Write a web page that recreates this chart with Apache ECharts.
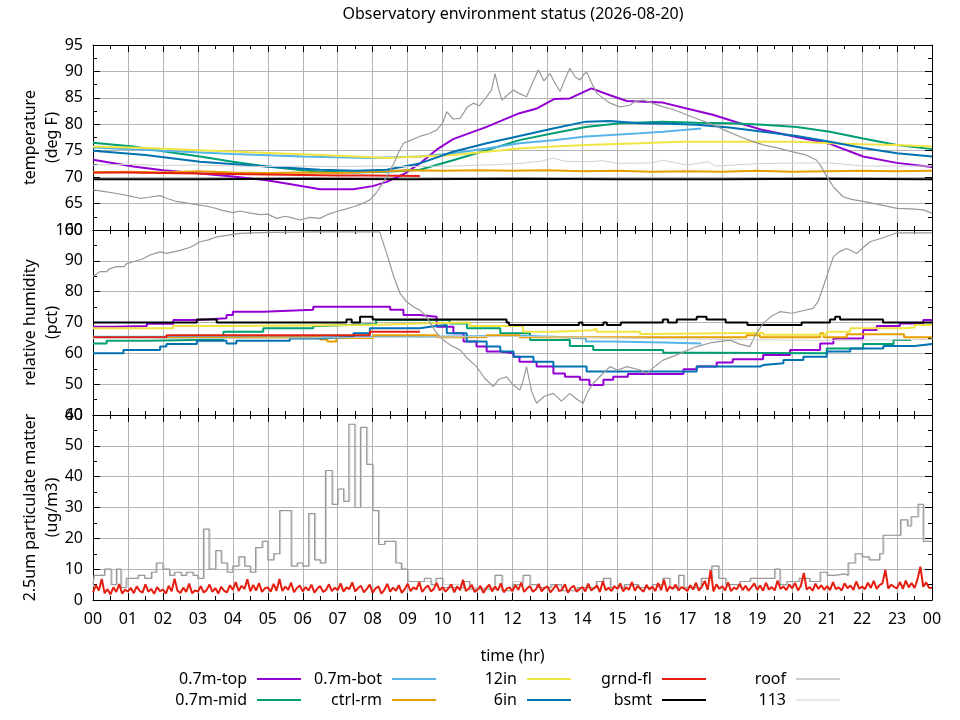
<!DOCTYPE html>
<html><head><meta charset="utf-8">
<script src="https://cdn.jsdelivr.net/npm/echarts@6/dist/echarts.min.js"></script>
<style>html,body{margin:0;padding:0;background:#fff}#c{width:960px;height:720px}</style>
</head><body><div id="c"></div>
<script>
// ---------- labels ----------
const chartTitle = 'Observatory environment status (2026-08-20)';
const xTickLabels = ['00','01','02','03','04','05','06','07','08','09','10','11','12','13','14','15','16','17','18','19','20','21','22','23','00'];
const sensorNames = ['0.7m-top','0.7m-mid','0.7m-bot','ctrl-rm','12in','6in','grnd-fl','bsmt','roof','113'];

// ---------- temperature (deg F), [hour, value] ----------
const tempTop = [[0,73.3],[1.15,72.0],[2,71.3],[3.06,70.7],[4,70.1],[4.97,69.4],[5.7,68.6],[6.5,67.7],[7.44,67.7],[8,68.3],[8.4,69.1],[8.9,70.6],[9.35,72.6],[9.83,75.2],[10.3,77.2],[11.26,79.5],[12.2,82.1],[12.7,83.0],[13.2,84.8],[13.64,84.9],[14.26,86.8],[14.79,85.5],[15.27,84.4],[16.3,84.1],[16.98,83.0],[17.73,81.8],[18.5,80.2],[19.17,78.9],[20.13,77.6],[21.08,76.3],[22.03,73.9],[22.99,72.7],[24,71.9]];
const tempMid = [[0,76.5],[1.15,75.8],[2,74.9],[3.06,73.9],[4,72.9],[4.97,72.0],[6,71.3],[6.5,71.0],[7.5,70.9],[8.4,71.0],[9.35,71.4],[10.3,73.2],[11.26,75.1],[12.2,77.0],[13.16,78.3],[14.1,79.5],[15.07,80.2],[16.3,80.5],[17.27,80.3],[18.2,80.2],[19.17,79.9],[20.13,79.5],[21.08,78.6],[22.03,77.3],[23,76.1],[24,75.3]];
const tempBot = [[0,75.6],[2,75.0],[4,74.4],[6,73.9],[7.9,73.6],[9.35,73.9],[10.3,74.5],[11.26,75.4],[12.2,76.4],[13.16,77.0],[14.1,77.7],[15.65,78.3],[16.3,78.6],[17.4,79.2]];
const tempCtrl = [[0,70.9],[1,71.0],[2,70.9],[3,71.1],[4,70.9],[5,70.8],[6,70.9],[7,70.8],[8,71.0],[9,71.3],[10,71.2],[11,71.3],[12,71.2],[13,71.3],[14,71.1],[15,71.2],[16,71.0],[17,71.1],[18,71.0],[19,71.2],[20,71.0],[21,71.1],[22,71.2],[23,71.1],[24,71.2]];
const temp12in = [[0,75.8],[1.5,75.5],[3.06,75.1],[4.5,74.7],[6.5,74.2],[7.5,73.9],[8.4,73.6],[9.35,73.9],[10.3,74.2],[11.26,74.8],[12.2,75.4],[13.16,75.8],[14.1,76.1],[15.65,76.4],[16.8,76.7],[18.2,76.7],[20.13,76.7],[21.08,76.4],[22.03,76.2],[23,76.1],[24,75.8]];
const temp6in = [[0,75.0],[1.5,74.2],[3.06,72.9],[4.97,72.0],[6.5,71.4],[7.5,71.2],[8.4,71.4],[9.35,72.6],[10.3,74.8],[11.26,76.4],[12.2,77.8],[13.16,79.2],[14.1,80.5],[14.79,80.6],[15.65,80.2],[16.5,80.1],[17.27,79.9],[18.2,79.4],[19.17,78.6],[20.13,77.8],[21.08,76.7],[22.03,75.5],[23,74.5],[24,73.9]];
const tempGrnd = [[0,70.9],[1,70.9],[2,70.8],[3,70.7],[4,70.6],[5,70.5],[6,70.4],[7,70.3],[8,70.3],[9.35,70.2]];
const tempBsmt = [[0,69.6],[3,69.6],[6,69.7],[9,69.6],[12,69.7],[15,69.6],[18,69.6],[21,69.7],[24,69.6]];
const tempRoof = [[0,67.6],[0.3,67.3],[0.68,66.9],[1.0,66.5],[1.34,66.0],[1.6,66.2],[1.92,66.5],[2.1,66.0],[2.39,65.4],[2.7,65.1],[3.06,64.7],[3.4,64.3],[3.7,63.7],[4.0,63.3],[4.2,63.6],[4.5,63.2],[4.8,62.9],[5.0,63.0],[5.25,62.2],[5.5,62.6],[5.7,62.3],[5.92,61.9],[6.2,62.4],[6.49,62.2],[6.7,62.9],[6.97,63.5],[7.2,63.9],[7.45,64.4],[7.7,65.0],[7.92,65.7],[8.1,67.0],[8.25,68.5],[8.4,70.1],[8.6,72.5],[8.75,74.8],[8.88,76.4],[9.1,77.0],[9.35,77.7],[9.6,78.2],[9.83,78.9],[10.0,80.2],[10.12,82.4],[10.3,81.0],[10.5,81.1],[10.7,83.2],[10.88,84.0],[11.05,83.5],[11.26,85.2],[11.4,86.5],[11.5,89.6],[11.6,86.8],[11.7,84.6],[11.85,85.5],[12.02,86.5],[12.2,85.8],[12.4,85.2],[12.55,87.5],[12.74,90.3],[12.9,88.2],[13.07,89.6],[13.2,88.0],[13.36,86.2],[13.5,88.5],[13.64,90.6],[13.8,88.9],[13.93,88.4],[14.05,89.5],[14.12,89.9],[14.25,88.0],[14.41,85.9],[14.6,84.9],[14.79,84.0],[15.07,83.3],[15.36,83.6],[15.5,84.3],[15.74,84.6],[16.0,84.0],[16.31,83.3],[16.6,82.8],[16.98,81.8],[17.3,81.0],[17.74,79.9],[18.1,78.8],[18.5,77.7],[18.8,76.9],[19.17,76.1],[19.6,75.5],[20.13,74.6],[20.4,74.2],[20.7,73.2],[20.85,71.8],[20.99,70.1],[21.2,68.0],[21.46,66.3],[21.7,65.8],[22.03,65.4],[22.5,64.8],[23.0,64.1],[23.4,64.0],[23.75,63.8],[24,63.2]];
const temp113 = [[0,72.3],[1,72.4],[2,72.2],[3,72.3],[4,72.1],[5,72.0],[6,72.1],[7,72.0],[8,72.1],[9,72.0],[10.3,72.1],[11.26,72.3],[12.2,72.6],[12.8,73.0],[13.16,73.6],[13.5,73.0],[14.1,72.9],[14.6,73.1],[15,72.6],[16,72.7],[16.3,73.2],[16.98,72.3],[17.6,72.9],[17.8,72.1],[19.17,72.6],[21.08,72.7],[22,72.1],[24,72.1]];

// ---------- relative humidity (pct), step levels [start hour, value] ----------
const humTop = [[0,68.6],[0.58,68.9],[1.54,69.6],[2.3,70.8],[2.97,71.4],[3.82,72.4],[4.0,73.5],[4.87,74.1],[6.3,75.1],[8.5,74.1],[8.88,72.4],[9.35,71.9],[9.83,68.6],[10.31,66.5],[10.6,63.8],[10.97,62.2],[11.26,60.6],[11.65,60.0],[12.03,58.9],[12.2,57.3],[12.69,55.7],[13.17,53.5],[13.5,52.4],[13.93,51.4],[14.2,49.7],[14.6,51.4],[14.88,52.4],[15.3,53.3],[16.89,54.8],[17.27,55.7],[17.84,57.0],[18.3,58.1],[19.17,59.5],[19.94,61.1],[20.8,63.2],[21.18,64.8],[22.03,67.6],[22.42,68.9],[23.08,69.7],[23.75,70.8],[24,70.8]];
const humMid = [[0,63.2],[0.39,64.1],[1.54,64.5],[3.73,67.0],[4.87,68.1],[6.3,68.9],[6.5,69.5],[8.1,70.8],[10.2,69.7],[10.7,68.1],[11.65,66.5],[12.5,64.3],[13.64,62.4],[14.31,61.1],[16.31,60.2],[17.5,60.0],[20.99,61.6],[22.03,63.0],[22.9,64.3],[23.4,64.3]];
const humBot = [[0,65.4],[9.5,65.7],[12.2,65.4],[13.17,64.8],[14.1,63.8],[14.8,63.5],[16.3,63.2],[17.4,63.0]];
const humCtrl = [[0,65.0],[2.77,65.2],[6.5,64.5],[6.7,63.8],[6.96,65.0],[8.02,65.9],[9.83,65.2],[11.26,65.9],[12.2,65.2],[18.69,65.9],[19.08,65.2],[20.8,66.5],[20.9,65.2],[21.56,66.2],[23.2,65.2],[24,65.2]];
const hum12in = [[0,68.1],[2.3,68.9],[4.0,69.2],[7.9,69.7],[9.35,70.0],[10.78,68.9],[12.3,67.0],[13.17,67.5],[14.3,68.1],[14.4,67.0],[15.65,66.3],[16,66.7],[19.17,66.0],[20.99,67.0],[21.66,68.1],[23.2,68.4],[23.5,69.2],[24,69.2]];
const hum6in = [[0,60.0],[0.87,61.1],[1.92,62.2],[2.1,63.0],[2.97,64.1],[3.82,63.2],[4.1,64.1],[5.63,64.8],[6.5,65.4],[7.45,66.5],[7.92,68.1],[9.35,68.6],[9.64,69.2],[10.12,66.5],[10.69,63.8],[11.26,62.2],[11.65,60.6],[12.03,58.9],[12.6,57.3],[13.17,55.7],[14.12,54.1],[17.27,55.7],[19.08,56.2],[19.17,56.8],[19.75,57.8],[20.32,58.9],[20.99,60.6],[21.66,61.6],[22.61,62.4],[23.5,63.0],[24,63.0]];
const humGrnd = [[0,65.2],[2.1,65.9],[7.92,67.0],[9.35,67.0]];
const humBsmt = [[0,70.0],[2.97,71.0],[3.54,70.0],[7.25,71.0],[7.4,70.0],[7.64,71.9],[8.0,71.0],[11.83,70.0],[11.9,69.2],[13.9,70.0],[14.0,69.2],[14.6,70.0],[14.7,69.2],[15.1,70.0],[16.3,71.0],[16.45,70.0],[16.7,71.0],[17.27,71.9],[17.55,71.0],[18.1,70.0],[18.72,69.2],[20.27,70.0],[21.08,71.0],[21.23,71.9],[21.37,71.0],[22.6,70.0],[24,70.0]];
const humRoof = [[0,84.9],[0.2,86.5],[0.4,86.5],[0.45,87.3],[0.68,88.1],[0.9,88.1],[0.95,89.0],[1.15,89.7],[1.4,90.5],[1.63,91.9],[1.92,92.9],[2.1,92.4],[2.5,93.4],[2.8,94.5],[3.06,96.2],[3.3,96.8],[3.54,97.8],[4.2,98.9],[5,99.2],[6.5,99.4],[8.2,99.4],[8.4,92.4],[8.6,85.0],[8.78,79.5],[8.95,77.0],[9.16,75.1],[9.35,74.0],[9.54,71.9],[9.8,67.0],[10.02,64.3],[10.25,62.5],[10.5,61.1],[10.7,58.5],[10.97,55.7],[11.2,52.0],[11.45,49.2],[11.6,51.5],[11.83,52.4],[12.0,50.0],[12.21,48.1],[12.3,51.0],[12.4,55.7],[12.55,47.5],[12.69,43.8],[12.9,46.0],[13.17,47.0],[13.4,44.5],[13.64,47.0],[13.85,45.0],[14.02,43.8],[14.15,47.5],[14.31,50.3],[14.5,52.5],[14.79,55.7],[15.0,54.5],[15.27,55.7],[15.65,54.6],[15.84,53.5],[16.1,56.0],[16.31,57.8],[16.7,59.5],[17.0,61.0],[17.27,62.2],[17.7,63.5],[18.22,64.3],[18.5,63.0],[18.79,62.2],[18.95,66.0],[19.17,69.7],[19.4,72.0],[19.65,73.5],[20.0,73.0],[20.3,73.8],[20.6,74.6],[20.75,77.0],[20.89,81.6],[21.05,87.0],[21.18,91.3],[21.35,93.0],[21.56,94.0],[21.85,92.4],[22.0,94.0],[22.23,96.2],[22.6,97.5],[23,99.1],[24,99.1]];
const hum113 = [[0,64.8],[3,65.0],[6,65.2],[9,65.5],[12,65.0],[15,64.5],[18,64.2],[21,64.5],[24,65.0]];

// ---------- 2.5um particulate matter (ug/m3) ----------
const pmRoof = [[0,5],[0.03,8],[0.33,10],[0.52,5],[0.67,10],[0.8,4],[0.95,7],[1.29,8],[1.48,7],[1.67,9],[1.81,12],[2.0,10],[2.19,8],[2.33,9],[2.52,8],[2.67,9],[2.86,8],[3.0,7],[3.16,23],[3.32,10],[3.51,16],[3.67,12],[3.84,9],[4.0,11],[4.17,14],[4.34,11],[4.5,9],[4.65,17],[4.84,19],[5.0,13],[5.17,15],[5.34,29],[5.67,11],[5.84,12],[6.0,11],[6.17,28],[6.34,13],[6.5,12],[6.65,42],[6.84,31],[7.0,36],[7.17,32],[7.32,57],[7.49,30],[7.65,56],[7.83,44],[8.0,29],[8.17,18],[8.34,19],[8.66,12],[8.82,10],[9.0,6],[9.48,7],[9.67,5],[9.81,7],[10.0,4],[10.6,6],[10.77,3.5],[11.5,8],[11.7,3],[12.0,5],[12.3,8],[12.5,5],[12.7,4],[13.1,5],[13.4,3],[13.85,4],[14.4,6],[14.6,7],[14.8,4],[15.2,5],[15.6,4],[16.0,5],[16.3,7],[16.5,4],[16.75,8],[16.9,4],[17.4,7],[17.7,11],[17.9,7],[18.1,5],[18.5,6],[18.8,7],[19.5,10],[19.65,5],[19.85,6],[20.2,7],[20.5,6],[20.8,9],[21.0,8],[21.2,8.5],[21.5,8],[21.6,12],[21.8,15],[22.0,14],[22.2,13],[22.5,15],[22.6,21],[23.1,26],[23.3,24],[23.4,27],[23.6,31],[23.75,19],[24,19]];
const pm113 = [[0,4],[0.05,8],[0.36,10],[0.55,5],[0.7,10],[0.83,4],[0.98,7],[1.32,8],[1.5,7],[1.7,9],[1.84,12],[2.03,10],[2.22,8],[2.36,9],[2.55,8],[2.7,9],[2.89,8],[3.03,7],[3.19,23],[3.35,10],[3.54,16],[3.7,12],[3.87,9],[4.03,11],[4.2,14],[4.37,11],[4.53,9],[4.68,17],[4.87,19],[5.03,13],[5.2,15],[5.37,29],[5.7,11],[5.87,12],[6.03,11],[6.2,28],[6.37,13],[6.53,12],[6.68,42],[6.87,31],[7.03,36],[7.2,32],[7.35,57],[7.52,30],[7.68,56],[7.86,44],[8.03,29],[8.2,18],[8.37,19],[8.69,12],[8.85,10],[9.03,6],[9.5,6],[9.7,5],[9.84,7],[10.03,5],[10.6,6],[10.8,4],[11.5,8],[11.73,3],[12.03,6],[12.33,8],[12.53,5],[12.73,4],[13.13,5],[13.43,3],[13.88,4],[14.43,6],[14.63,7],[14.83,4],[15.23,5],[15.63,4],[16.03,5],[16.33,7],[16.53,4],[16.78,8],[16.93,4],[17.43,7],[17.73,11],[17.93,7],[18.13,5],[18.53,6],[18.83,7],[19.53,10],[19.68,5],[19.88,6],[20.23,7],[20.53,6],[20.83,9],[21.03,8],[21.23,8.5],[21.53,8],[21.63,12],[21.83,15],[22.03,14],[22.23,13],[22.53,15],[22.63,21],[23.13,26],[23.33,24],[23.43,27],[23.63,31],[23.78,19],[24,19]];
// grnd-fl, one reading every 5 minutes from 00:00 to 24:00
const pmGrndVals = [
2.5,4.8,3.1,6.8,2.2,3.5,1.8,4.1,2.6,5.2,2.1,3.3,
2.8,3.9,2.2,4.4,3.0,2.4,5.1,2.7,3.6,2.0,4.2,2.9,
3.4,2.1,4.6,2.8,6.9,3.0,2.3,4.0,2.6,5.3,2.2,3.1,
2.7,4.5,2.4,3.2,5.0,2.6,3.9,2.1,4.3,3.0,2.5,4.8,
3.3,5.8,2.9,4.6,3.6,6.7,2.8,4.9,3.1,5.5,2.6,3.8,
4.1,2.7,5.2,3.0,6.8,2.9,4.4,3.3,5.6,2.5,3.9,4.7,
2.8,4.2,3.1,5.0,2.4,3.7,4.5,2.6,3.3,5.1,2.9,4.0,
3.2,5.4,2.7,4.1,3.5,5.7,2.8,3.9,4.6,2.5,3.6,5.0,
2.4,3.8,4.4,2.1,3.3,5.2,2.7,4.0,3.0,4.8,2.3,3.5,
5.3,2.9,4.1,3.4,5.8,2.6,3.9,4.7,2.8,3.6,5.5,3.1,
4.2,2.7,3.8,5.1,2.5,4.4,3.2,6.6,2.9,3.7,4.9,2.6,
3.4,4.6,2.3,3.9,5.0,2.8,4.3,3.1,5.4,2.5,3.7,4.1,
2.9,4.8,3.3,5.6,2.6,3.8,4.5,2.7,3.4,5.2,2.8,3.9,
4.4,2.5,3.6,4.9,2.9,3.3,5.1,2.4,3.9,4.6,2.7,3.5,
4.2,2.8,5.3,3.1,3.8,4.7,2.6,6.1,3.2,4.0,2.9,4.5,
3.6,5.4,2.8,4.1,3.3,5.8,3.0,4.6,3.5,2.7,4.9,3.4,
4.3,2.9,5.5,3.2,6.6,2.8,4.4,3.6,5.0,3.1,4.2,3.7,
2.9,4.8,3.4,5.6,3.0,4.3,6.2,3.3,9.7,2.8,5.1,3.6,
4.5,3.1,5.7,2.9,4.0,3.5,5.2,3.2,4.6,3.0,4.1,5.4,
3.3,4.7,3.0,5.6,3.4,4.2,3.1,6.3,3.6,4.4,3.2,5.0,
3.8,5.5,3.1,4.6,8.8,3.4,4.2,3.0,5.3,3.6,4.8,3.3,
4.5,3.2,5.8,3.5,4.1,3.1,5.4,3.8,4.7,3.3,6.0,3.7,
4.4,3.5,5.6,3.9,6.2,3.6,4.8,5.4,9.8,3.7,5.0,4.2,
3.8,5.9,3.6,6.3,4.1,5.5,3.9,6.6,10.8,4.3,5.7,4.0,
3.9];

// ---------- styling ----------
const FONT = 'Noto Sans';
const FS = 16;
const sensorColors = ['#9400d3','#009e73','#56b4e9','#e69f00','#f0e442','#0072b2','#e51e10','#000000','#999999','#d0d0d0'];
const sensorWidths = [2,2,2,2,2,2,2,2,1.2,1];
const GRID_L = 93, GRID_R = 28, PANEL_H = 185, PANEL_TOPS = [45, 230, 415];

const pmGrnd = pmGrndVals.map((v, i) => [i / 12, v]);

const panels = [
  { min: 60, max: 95, interval: 5,
    series: [[0,tempTop],[1,tempMid],[2,tempBot],[3,tempCtrl],[4,temp12in],[5,temp6in],[6,tempGrnd],[7,tempBsmt],[8,tempRoof],[9,temp113]] },
  { min: 40, max: 100, interval: 10,
    series: [[0,humTop,'end'],[1,humMid,'end'],[2,humBot,'end'],[3,humCtrl,'end'],[4,hum12in,'end'],[5,hum6in,'end'],[6,humGrnd,'end'],[7,humBsmt,'end'],[8,humRoof,false],[9,hum113,'end']] },
  { min: 0, max: 60, interval: 10,
    series: [[9,pm113,'end'],[8,pmRoof,'end'],[6,pmGrnd,false]] }
];

const grid = PANEL_TOPS.map(t => ({ left: GRID_L, right: GRID_R, top: t, height: PANEL_H, containLabel: false }));
const axLine = { show: true, onZero: false, lineStyle: { color: '#000', width: 1 } };
const tick = { show: true, inside: true, length: 7, lineStyle: { color: '#000', width: 1 } };
const minor = { show: true, splitNumber: 2, length: 4, lineStyle: { color: '#000', width: 1 } };
const split = { show: true, lineStyle: { color: '#b4b4b4', width: 1 } };
const lbl = { color: '#000', fontSize: FS, fontFamily: FONT };

const xAxis = [], yAxis = [];
panels.forEach((p, gi) => {
  xAxis.push({ type: 'value', gridIndex: gi, position: 'bottom', min: 0, max: 24, interval: 1,
    axisLine: axLine, axisTick: tick, minorTick: minor, splitLine: split,
    axisLabel: gi === 2 ? Object.assign({ show: true, margin: 11, showMinLabel: true, showMaxLabel: true,
      formatter: v => xTickLabels[Math.round(v)] }, lbl) : { show: false },
    name: gi === 2 ? 'time (hr)' : '', nameLocation: 'middle', nameGap: 48,
    nameTextStyle: { color: '#000', fontSize: FS, fontFamily: FONT } });
  xAxis.push({ type: 'value', gridIndex: gi, position: 'top', min: 0, max: 24, interval: 1,
    axisLine: axLine, axisTick: tick, minorTick: minor, splitLine: { show: false }, axisLabel: { show: false } });
  yAxis.push({ type: 'value', gridIndex: gi, position: 'left', min: p.min, max: p.max, interval: p.interval,
    axisLine: axLine, axisTick: tick, minorTick: minor, splitLine: split,
    axisLabel: Object.assign({ margin: 10, showMinLabel: true, showMaxLabel: true }, lbl) });
  yAxis.push({ type: 'value', gridIndex: gi, position: 'right', min: p.min, max: p.max, interval: p.interval,
    axisLine: axLine, axisTick: tick, minorTick: minor, splitLine: { show: false }, axisLabel: { show: false } });
});

const series = [];
panels.forEach((p, gi) => {
  p.series.forEach(([si, data, step]) => {
    series.push({ type: 'line', name: sensorNames[si], xAxisIndex: gi * 2, yAxisIndex: gi * 2,
      data: data, step: step || false, showSymbol: false, symbol: 'none', clip: true,
      lineStyle: { color: sensorColors[si], width: sensorWidths[si] },
      itemStyle: { color: sensorColors[si] }, emphasis: { disabled: true }, silent: true, animation: false });
  });
});

const sampleRight = [301, 436, 571, 706, 840];
const rowY = [679, 700];
const legend = sensorNames.map((n, i) => {
  const c = Math.floor(i / 2), r = i % 2;
  return { data: [n], orient: 'horizontal', align: 'right', icon: 'rect',
    itemWidth: 44, itemHeight: sensorWidths[i] > 1.5 ? 2 : 1, padding: 0, selectedMode: false,
    right: 960 - sampleRight[c], top: rowY[r] - 10,
    textStyle: { color: '#000', fontSize: FS, fontFamily: FONT, lineHeight: 20, padding: [0, 5, 0, 0] } };
});

const yNames = [['temperature\n(deg F)', 137.5], ['relative humidity\n(pct)', 322.5], ['2.5um particulate matter\n(ug/m3)', 507.5]];
const graphic = [
  { type: 'text', x: 513, y: 14, style: { text: chartTitle, font: FS + 'px "' + FONT + '"', fill: '#000', textAlign: 'center', textVerticalAlign: 'middle', verticalAlign: 'middle' } }
].concat(yNames.map(([t, y]) => ({ type: 'text', x: 41, y: y, rotation: Math.PI / 2,
  style: { text: t, font: FS + 'px "' + FONT + '"', fill: '#000', textAlign: 'center', textVerticalAlign: 'middle', verticalAlign: 'middle', lineHeight: 22 } })));

const chart = echarts.init(document.getElementById('c'), null, { renderer: 'canvas' });
chart.setOption({ animation: false, backgroundColor: '#fff', grid, xAxis, yAxis, series, legend, graphic });
</script></body></html>
